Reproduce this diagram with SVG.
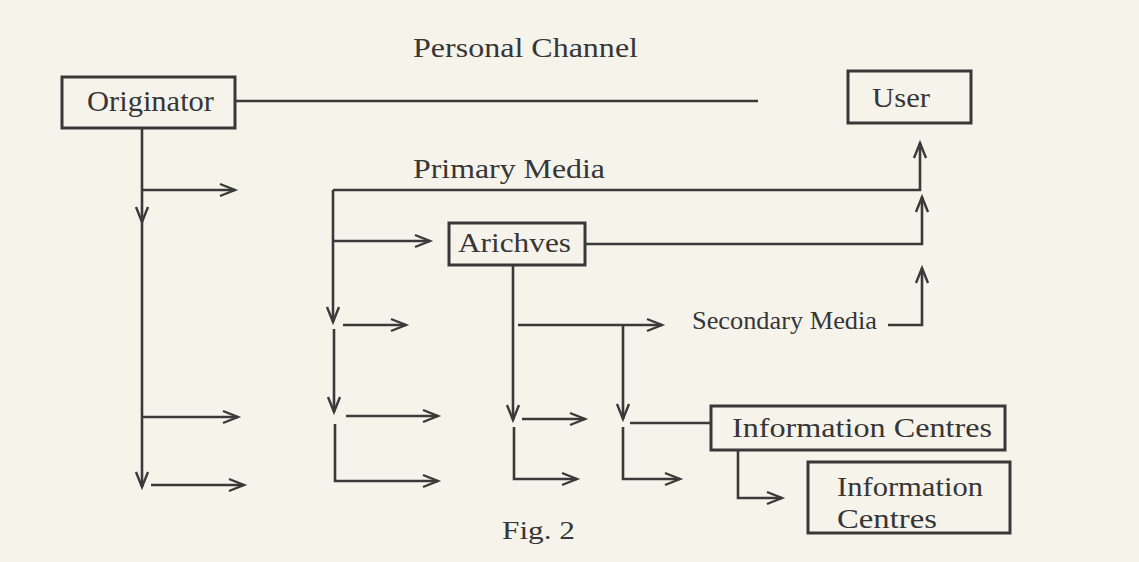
<svg xmlns="http://www.w3.org/2000/svg" width="1139" height="562" viewBox="0 0 1139 562">
  <style>
    .box { fill: none; stroke: #383838; stroke-width: 3; }
    .lbl { font-family: "Liberation Serif", "Times New Roman", serif; fill: #363636; }
    .ln { fill: none; stroke: #3a3a3a; stroke-width: 2.6; stroke-linejoin: miter; }
    .arr { marker-end: url(#head); }
  </style>
  <defs>
    <marker id="head" markerUnits="userSpaceOnUse" markerWidth="20" markerHeight="16" viewBox="-16 -8 20 16" refX="0" refY="0" orient="auto">
      <path d="M-15,-6 L0,0 L-15,6" fill="none" stroke="#3a3a3a" stroke-width="2.4" stroke-linejoin="miter"/>
    </marker>
  </defs>

  <rect width="1139" height="562" fill="#f6f3eb"/>

  <!-- free labels -->
  <text class="lbl" x="413" y="57" font-size="28" textLength="225" lengthAdjust="spacingAndGlyphs">Personal Channel</text>
  <text class="lbl" x="413" y="178" font-size="28" textLength="192" lengthAdjust="spacingAndGlyphs">Primary Media</text>
  <text class="lbl" x="692" y="329" font-size="25" textLength="185" lengthAdjust="spacingAndGlyphs">Secondary Media</text>
  <text class="lbl" x="502" y="539" font-size="26" textLength="73" lengthAdjust="spacingAndGlyphs">Fig. 2</text>

  <!-- nodes -->
  <g id="originator">
    <rect class="box" x="62" y="77" width="173" height="51"/>
    <text class="lbl" x="87" y="111" font-size="30" textLength="127" lengthAdjust="spacingAndGlyphs">Originator</text>
  </g>
  <g id="user">
    <rect class="box" x="848" y="71" width="123" height="52"/>
    <text class="lbl" x="872" y="107" font-size="28" textLength="58" lengthAdjust="spacingAndGlyphs">User</text>
  </g>
  <g id="archives">
    <rect class="box" x="449" y="223" width="136" height="42"/>
    <text class="lbl" x="458" y="252" font-size="28" textLength="113" lengthAdjust="spacingAndGlyphs">Arichves</text>
  </g>
  <g id="info-centres-1">
    <rect class="box" x="711" y="406" width="294" height="44"/>
    <text class="lbl" x="732" y="437" font-size="28" textLength="260" lengthAdjust="spacingAndGlyphs">Information Centres</text>
  </g>
  <g id="info-centres-2">
    <rect class="box" x="808" y="462" width="202" height="71"/>
    <text class="lbl" x="837" y="496" font-size="28" textLength="146" lengthAdjust="spacingAndGlyphs">Information</text>
    <text class="lbl" x="837" y="528" font-size="28" textLength="100" lengthAdjust="spacingAndGlyphs">Centres</text>
  </g>

  <!-- connectors -->
  <g id="connectors">
    <!-- personal channel -->
    <path class="ln" d="M235,101 L758,101"/>

    <!-- originator trunk -->
    <path class="ln arr" d="M142,128 L142,222"/>
    <path class="ln arr" d="M142,222 L142,487"/>
    <path class="ln arr" d="M142,190 L235,190"/>
    <path class="ln arr" d="M142,417 L238,417"/>
    <path class="ln arr" d="M151,485 L244,485"/>

    <!-- primary media -->
    <path class="ln arr" d="M333,190 L920,190 L920,143"/>
    <path class="ln arr" d="M333,190 L333,322"/>
    <path class="ln arr" d="M333,241 L430,241"/>
    <path class="ln arr" d="M343,325 L406,325"/>
    <path class="ln arr" d="M334,329 L334,412"/>
    <path class="ln arr" d="M346,416 L438,416"/>
    <path class="ln arr" d="M335,424 L335,481 L438,481"/>

    <!-- archives -->
    <path class="ln arr" d="M585,244 L922,244 L922,197"/>
    <path class="ln arr" d="M513,265 L513,420"/>
    <path class="ln arr" d="M518,325 L662,325"/>
    <path class="ln arr" d="M623,325 L623,419"/>
    <path class="ln arr" d="M522,419 L585,419"/>
    <path class="ln arr" d="M514,427 L514,479 L577,479"/>
    <path class="ln" d="M630,423 L711,423"/>
    <path class="ln arr" d="M623,427 L623,479 L680,479"/>

    <!-- secondary media -->
    <path class="ln arr" d="M888,325 L922,325 L922,268"/>

    <!-- between information centres -->
    <path class="ln arr" d="M738,450 L738,498 L782,498"/>
  </g>
</svg>
